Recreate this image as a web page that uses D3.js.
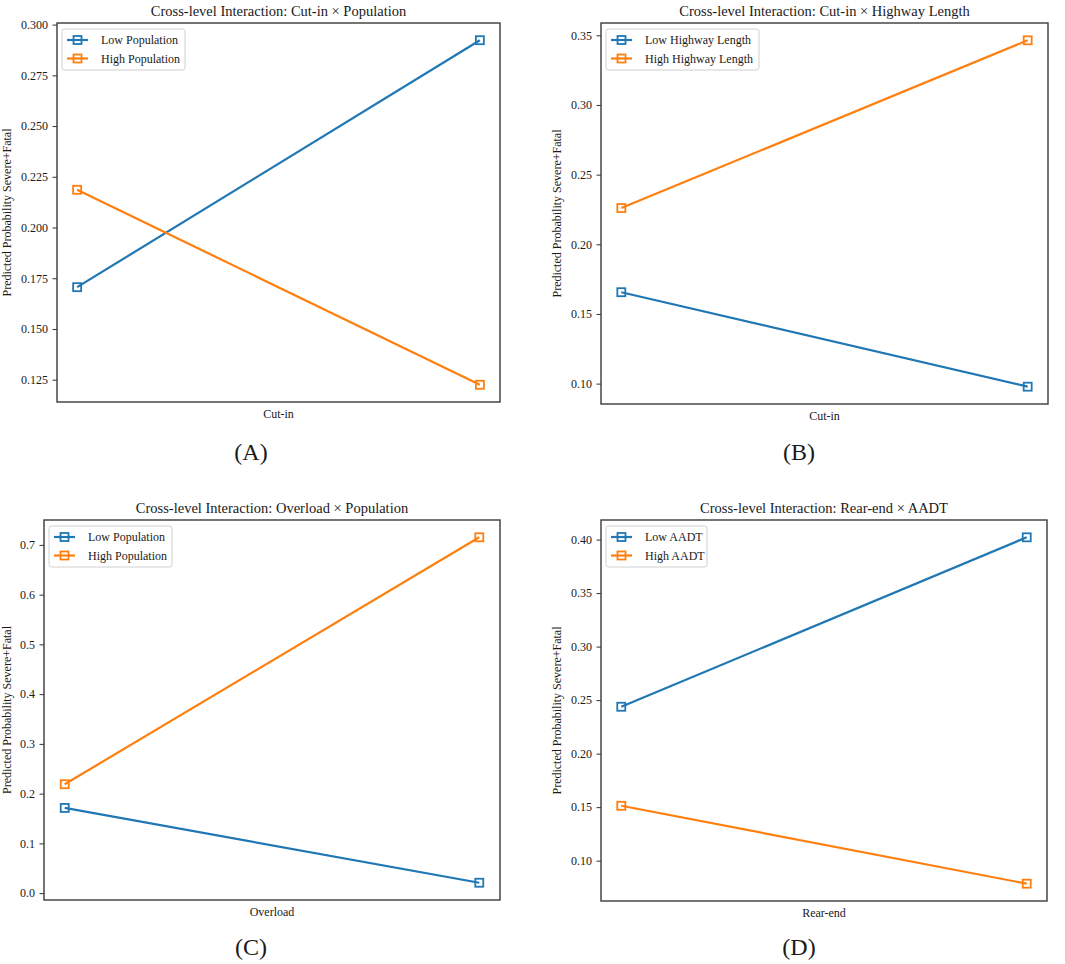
<!DOCTYPE html>
<html><head><meta charset="utf-8">
<script src="https://cdn.jsdelivr.net/npm/d3@7"></script>
<style>
body{margin:0;background:#fff;}
text{font-family:"Liberation Serif","Times New Roman",serif;fill:#1a1a1a;}
</style></head><body>
<svg id="chart" width="1065" height="964"></svg>
<script>
const panelTitles = [
  "Cross-level Interaction: Cut-in × Population",
  "Cross-level Interaction: Cut-in × Highway Length",
  "Cross-level Interaction: Overload × Population",
  "Cross-level Interaction: Rear-end × AADT"
];
const panelLetters = ["(A)", "(B)", "(C)", "(D)"];
const xAxisLabels = ["Cut-in", "Cut-in", "Overload", "Rear-end"];
const yAxisLabel = "Predicted Probability Severe+Fatal";
const lowLabels = ["Low Population", "Low Highway Length", "Low Population", "Low AADT"];
const highLabels = ["High Population", "High Highway Length", "High Population", "High AADT"];
const xPositions = [0, 1];
const lowValues = [[0.1706, 0.2923], [0.1656, 0.0978], [0.1713, 0.0209], [0.2438, 0.4021]];
const highValues = [[0.2186, 0.1225], [0.2260, 0.3464], [0.2189, 0.7153], [0.1513, 0.0785]];
const yTickValues = [
  [0.125, 0.150, 0.175, 0.200, 0.225, 0.250, 0.275, 0.300],
  [0.10, 0.15, 0.20, 0.25, 0.30, 0.35],
  [0.0, 0.1, 0.2, 0.3, 0.4, 0.5, 0.6, 0.7],
  [0.10, 0.15, 0.20, 0.25, 0.30, 0.35, 0.40]
];
const yTickFormats = [".3f", ".2f", ".1f", ".2f"];

const colors = {low: "#1f77b4", high: "#ff7f0e"};
const layouts = [
  {left: 57, right: 500, top: 23, bottom: 402, ylabX: 11, letterX: 251, letterY: 460, legW: 123},
  {left: 601, right: 1048, top: 23, bottom: 404, ylabX: 561, letterX: 799, letterY: 460, legW: 153},
  {left: 44, right: 500, top: 520, bottom: 900, ylabX: 11, letterX: 251, letterY: 955, legW: 123},
  {left: 601, right: 1047, top: 520, bottom: 901, ylabX: 561, letterX: 799, letterY: 955, legW: 101}
];

const svg = d3.select("#chart");

panelTitles.forEach((title, i) => {
  const L = layouts[i];
  const g = svg.append("g");
  const all = lowValues[i].concat(highValues[i]);
  const mn = d3.min(all), mx = d3.max(all), rg = mx - mn;
  const x = d3.scaleLinear().domain([-0.05, 1.05]).range([L.left, L.right]);
  const y = d3.scaleLinear().domain([mn - 0.05 * rg, mx + 0.05 * rg]).range([L.bottom, L.top]);

  // y axis
  const yAxis = d3.axisLeft(y).tickValues(yTickValues[i]).tickFormat(d3.format(yTickFormats[i])).tickSize(4.5).tickPadding(4.5);
  const ya = g.append("g").attr("transform", `translate(${L.left},0)`).call(yAxis);
  ya.attr("font-family", null);
  ya.select(".domain").remove();
  ya.selectAll(".tick line").attr("stroke", "#333").attr("stroke-width", 1);
  ya.selectAll(".tick text").style("font-family", '"Liberation Serif", serif').style("font-size", "12px").attr("fill", "#1a1a1a");

  // lines
  const line = d3.line().x((d, j) => x(xPositions[j])).y(d => y(d));
  [["low", lowValues[i]], ["high", highValues[i]]].forEach(([k, vals]) => {
    g.append("path").datum(vals).attr("d", line).attr("fill", "none")
      .attr("stroke", colors[k]).attr("stroke-width", 2.2);
    g.selectAll(null).data(vals).enter().append("rect")
      .attr("x", (d, j) => x(xPositions[j]) - 4).attr("y", d => y(d) - 4)
      .attr("width", 8).attr("height", 8).attr("fill", "none")
      .attr("stroke", colors[k]).attr("stroke-width", 1.8);
  });

  // frame
  g.append("rect").attr("x", L.left).attr("y", L.top)
    .attr("width", L.right - L.left).attr("height", L.bottom - L.top)
    .attr("fill", "none").attr("stroke", "#3a3a3a").attr("stroke-width", 1.4);

  // title
  g.append("text").attr("x", (L.left + L.right) / 2).attr("y", L.top - 7)
    .attr("text-anchor", "middle").style("font-size", "14.5px").text(title);
  // x label
  g.append("text").attr("x", (L.left + L.right) / 2).attr("y", L.bottom + 16)
    .attr("text-anchor", "middle").style("font-size", "12px").text(xAxisLabels[i]);
  // y label
  g.append("text").attr("transform", `translate(${L.ylabX},${(L.top + L.bottom) / 2}) rotate(-90)`)
    .attr("text-anchor", "middle").style("font-size", "12px").text(yAxisLabel);
  // panel letter
  g.append("text").attr("x", L.letterX).attr("y", L.letterY)
    .attr("text-anchor", "middle").style("font-size", "24px").text(panelLetters[i]);

  // legend
  const lx = L.left + 5, ly = L.top + 6;
  g.append("rect").attr("x", lx).attr("y", ly).attr("width", L.legW).attr("height", 41)
    .attr("rx", 2.5).attr("fill", "#fff").attr("fill-opacity", 0.8)
    .attr("stroke", "#d0d0d0").attr("stroke-width", 1);
  [[lowLabels[i], "low"], [highLabels[i], "high"]].forEach(([lab, k], r) => {
    const cy = ly + 11 + r * 18.5;
    g.append("line").attr("x1", lx + 5).attr("x2", lx + 26).attr("y1", cy).attr("y2", cy)
      .attr("stroke", colors[k]).attr("stroke-width", 2.2);
    g.append("rect").attr("x", lx + 15.5 - 4).attr("y", cy - 4).attr("width", 8).attr("height", 8)
      .attr("fill", "none").attr("stroke", colors[k]).attr("stroke-width", 1.8);
    g.append("text").attr("x", lx + 39).attr("y", cy + 4.2).style("font-size", "12px").text(lab);
  });
});
</script>
</body></html>
